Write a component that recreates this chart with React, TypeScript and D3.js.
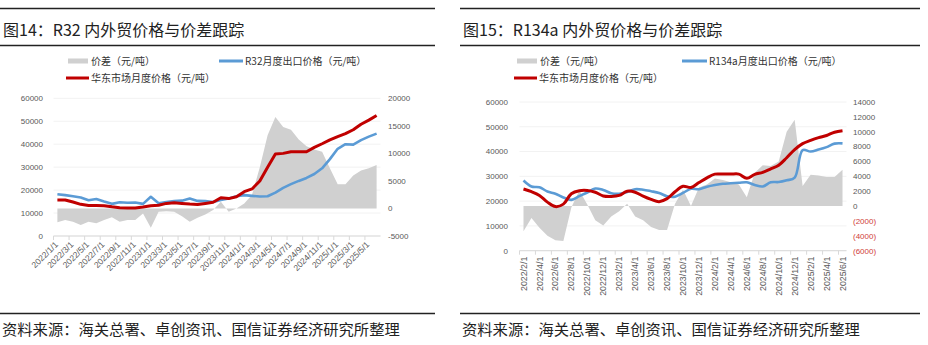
import React from 'react';
import * as d3 from 'd3';

// ---------- Data: 图14 R32 ----------
const r32Months = [
  '2022/1/1','2022/2/1','2022/3/1','2022/4/1','2022/5/1','2022/6/1','2022/7/1','2022/8/1','2022/9/1','2022/10/1','2022/11/1','2022/12/1',
  '2023/1/1','2023/2/1','2023/3/1','2023/4/1','2023/5/1','2023/6/1','2023/7/1','2023/8/1','2023/9/1','2023/10/1','2023/11/1','2023/12/1',
  '2024/1/1','2024/2/1','2024/3/1','2024/4/1','2024/5/1','2024/6/1','2024/7/1','2024/8/1','2024/9/1','2024/10/1','2024/11/1','2024/12/1',
  '2025/1/1','2025/2/1','2025/3/1','2025/4/1','2025/5/1','2025/6/1',
];
const r32Export = [
  18200,17800,17300,16800,15600,16100,15000,14000,14700,14500,14600,14000,
  17100,14300,14800,15200,15400,16300,15300,15200,14800,15700,16300,17300,
  17800,17500,17200,17300,18900,21000,22600,24000,25300,27000,29500,33500,
  38000,40000,39800,41800,43300,44600,
];
const r32Domestic = [
  15700,15700,14800,13800,13300,13300,13200,12700,12300,12200,12200,12600,
  13200,13400,14200,14500,14200,13900,13700,14200,14700,16700,16300,17100,
  19300,20500,24000,30000,35700,36000,36700,36700,36700,38600,40200,41900,
  43300,44600,46300,48700,50500,52500,
];
const r32Spread = [
  -2500,-2100,-2400,-3000,-2400,-2700,-2100,-1600,-2400,-2100,-2100,-900,
  -3500,-600,-500,-600,-1400,-2400,-1700,-1100,-300,1200,-600,0,
  900,2500,7500,13300,16600,14800,14300,12500,11300,10700,10300,7300,
  4400,4400,6000,6900,7300,7900,
];

// ---------- Data: 图15 R134a ----------
const r134aMonths = [
  '2022/2/1','2022/3/1','2022/4/1','2022/5/1','2022/6/1','2022/7/1','2022/8/1','2022/9/1','2022/10/1','2022/11/1','2022/12/1',
  '2023/1/1','2023/2/1','2023/3/1','2023/4/1','2023/5/1','2023/6/1','2023/7/1','2023/8/1','2023/9/1','2023/10/1','2023/11/1','2023/12/1',
  '2024/1/1','2024/2/1','2024/3/1','2024/4/1','2024/5/1','2024/6/1','2024/7/1','2024/8/1','2024/9/1','2024/10/1','2024/11/1','2024/12/1',
  '2025/1/1','2025/2/1','2025/3/1','2025/4/1','2025/5/1','2025/6/1',
];
const r134aExport = [
  28300,25900,25600,23900,23000,21500,20500,22000,23500,25100,24500,
  23200,23000,23700,24800,24600,24000,23300,22000,21800,23300,25000,24800,
  25800,26500,27000,27200,27400,27600,26500,25900,27600,27700,28400,29500,
  40600,40000,40800,41800,43200,43300,
];
const r134aDomestic = [
  24900,23800,22300,19600,17800,18800,23000,24200,24300,23600,22100,
  21900,22300,24000,23600,22000,20700,19800,21000,23800,26000,25500,27500,
  29400,30900,30900,30900,30900,29200,30800,31600,33000,34500,37500,40800,
  43200,44500,45600,46500,47800,48400,
];
const r134aSpread = [
  -3400,-1600,-2900,-4000,-4600,-4700,-200,2100,200,-1900,-2600,
  -1400,-700,300,-1400,-1900,-2800,-3200,-3200,300,2200,0,2500,
  2900,3700,3500,3200,2900,1200,4500,5500,5400,6000,10000,11600,
  2700,4200,4100,3900,3900,4900,
];

const leftTicks = [0, 10000, 20000, 30000, 40000, 50000, 60000];
const r32RightTicks = [-5000, 0, 5000, 10000, 15000, 20000];
const r134aRightTicks = [-6000, -4000, -2000, 0, 2000, 4000, 6000, 8000, 10000, 12000, 14000];

const NUM = '"Liberation Sans", Arial, sans-serif';
const CJK = '"Noto Sans CJK SC", "Liberation Sans", sans-serif';
const BLUE = '#5B9BD5';
const RED = '#C00000';
const GRAY = '#D0D0D0';

type PanelProps = {
  ox: number;
  title: string;
  exportLabel: string;
  months: string[];
  exp: number[];
  dom: number[];
  spread: number[];
  xRange: [number, number];
  yBottom: number;
  yTop: number;
  rightDomain: [number, number];
  rightTicks: number[];
  leftLabelX: number;
  rightLabelX: number;
  vertical: boolean;
  smooth: boolean;
  legend: { gray: number; blue: number; red: number; blueW: number };
};

function Panel(p: PanelProps) {
  const x = d3.scalePoint<string>().domain(p.months).range(p.xRange).padding(0.5);
  const step = x.step();
  const yL = d3.scaleLinear().domain([0, 60000]).range([p.yBottom, p.yTop]);
  const yR = d3.scaleLinear().domain(p.rightDomain).range([p.yBottom, p.yTop]);
  const curve = p.smooth ? d3.curveCatmullRom.alpha(0.5) : d3.curveLinear;
  const ruleW = p.ox === 0 ? 435 : 460;

  const area = d3
    .area<number>()
    .x((_, i) => x(p.months[i]) as number)
    .y0(yR(0))
    .y1((d) => yR(d));
  const lineL = d3
    .line<number>()
    .x((_, i) => x(p.months[i]) as number)
    .y((d) => yL(d))
    .curve(curve);

  const fmtR = (v: number) => (v < 0 ? (p.vertical ? `(${-v})` : `${v}`) : `${v}`);

  return (
    <g>
      {/* rules */}
      <line x1={p.ox} x2={p.ox + ruleW} y1={8.5} y2={8.5} stroke="#222" strokeWidth={1.3} />
      <line x1={p.ox} x2={p.ox + ruleW} y1={45.5} y2={45.5} stroke="#222" strokeWidth={1.3} />
      <line x1={p.ox} x2={p.ox + ruleW} y1={313.5} y2={313.5} stroke="#222" strokeWidth={1.3} />
      <text x={p.ox + 3} y={36} fontFamily={CJK} fontSize={16} fill="#222">{p.title}</text>
      <text x={p.ox + 2} y={335} fontFamily={CJK} fontSize={15.3} fill="#222">
        资料来源：海关总署、卓创资讯、国信证券经济研究所整理
      </text>

      {/* legend */}
      <rect x={p.legend.gray} y={58.5} width={20} height={5} fill={GRAY} />
      <text x={p.legend.gray + 23} y={61} dy="0.35em" fontFamily={CJK} fontSize={10} fill="#333">价差（元/吨）</text>
      <line x1={p.legend.blue} x2={p.legend.blue + p.legend.blueW} y1={61} y2={61} stroke={BLUE} strokeWidth={3} />
      <text x={p.legend.blue + p.legend.blueW + 2} y={61} dy="0.35em" fontFamily={CJK} fontSize={10} fill="#333">{p.exportLabel}</text>
      <line x1={p.legend.red} x2={p.legend.red + 23} y1={78} y2={78} stroke={RED} strokeWidth={3} />
      <text x={p.legend.red + 25} y={78} dy="0.35em" fontFamily={CJK} fontSize={10} fill="#333">华东市场月度价格（元/吨）</text>

      {/* grid */}
      {leftTicks.map((t) => (
        <line key={'g' + t} x1={p.xRange[0]} x2={p.xRange[1]} y1={yL(t)} y2={yL(t)} stroke="#F2F2F2" strokeWidth={1} />
      ))}

      {/* spread area */}
      <path d={area(p.spread) || ''} fill={GRAY} />

      {/* x axis */}
      <line x1={p.xRange[0]} x2={p.xRange[1]} y1={p.yBottom} y2={p.yBottom} stroke="#D9D9D9" strokeWidth={1} />
      {p.months.map((m, i) =>
        i % 2 === 0 ? (
          <line key={'t' + m} x1={(x(m) as number) - step / 2} x2={(x(m) as number) - step / 2} y1={p.yBottom} y2={p.yBottom + 4} stroke="#D9D9D9" />
        ) : null
      )}
      {p.months.map((m, i) =>
        i % 2 === 0 ? (
          p.vertical ? (
            <text key={'l' + m} transform={`translate(${x(m)},${p.yBottom + 6}) rotate(-90)`} textAnchor="end" dy="0.35em" fontFamily={NUM} fontSize={8.8} fill="#595959">{m}</text>
          ) : (
            <text key={'l' + m} transform={`translate(${(x(m) as number) - 1},${p.yBottom + 7}) rotate(-45)`} textAnchor="end" dy="0.35em" fontFamily={NUM} fontSize={8.5} fill="#595959">{m}</text>
          )
        ) : null
      )}

      {/* left axis labels */}
      {leftTicks.map((t) => (
        <text key={'yl' + t} x={p.leftLabelX} y={yL(t)} dy="0.35em" textAnchor="end" fontFamily={NUM} fontSize={8} fill="#595959">{t}</text>
      ))}
      {/* right axis labels */}
      {p.rightTicks.map((t) => (
        <text key={'yr' + t} x={p.rightLabelX} y={yR(t)} dy="0.35em" textAnchor="start" fontFamily={NUM} fontSize={8}
          fill={t < 0 && p.vertical ? '#D0403A' : '#595959'}>{fmtR(t)}</text>
      ))}

      {/* lines */}
      <path d={lineL(p.exp) || ''} fill="none" stroke={BLUE} strokeWidth={2.6} strokeLinejoin="round" />
      <path d={lineL(p.dom) || ''} fill="none" stroke={RED} strokeWidth={3} strokeLinejoin="round" />
    </g>
  );
}

export default function App() {
  return (
    <svg width={928} height={345} style={{ position: 'absolute', left: 0, top: 0, background: '#fff' }}>
      <rect width={928} height={345} fill="#fff" />
      <Panel
        ox={0}
        title="图14：R32 内外贸价格与价差跟踪"
        exportLabel="R32月度出口价格（元/吨）"
        months={r32Months}
        exp={r32Export}
        dom={r32Domestic}
        spread={r32Spread}
        xRange={[53.5, 380.5]}
        yBottom={236}
        yTop={98.3}
        rightDomain={[-5000, 20000]}
        rightTicks={r32RightTicks}
        leftLabelX={43}
        rightLabelX={388}
        vertical={false}
        smooth={false}
        legend={{ gray: 68, blue: 219, red: 66, blueW: 24 }}
      />
      <Panel
        ox={460}
        title="图15：R134a 内外贸价格与价差跟踪"
        exportLabel="R134a月度出口价格（元/吨）"
        months={r134aMonths}
        exp={r134aExport}
        dom={r134aDomestic}
        spread={r134aSpread}
        xRange={[519.5, 846.5]}
        yBottom={250.7}
        yTop={102}
        rightDomain={[-6000, 14000]}
        rightTicks={r134aRightTicks}
        leftLabelX={508}
        rightLabelX={853}
        vertical={true}
        smooth={true}
        legend={{ gray: 517, blue: 682, red: 514, blueW: 25 }}
      />
    </svg>
  );
}
